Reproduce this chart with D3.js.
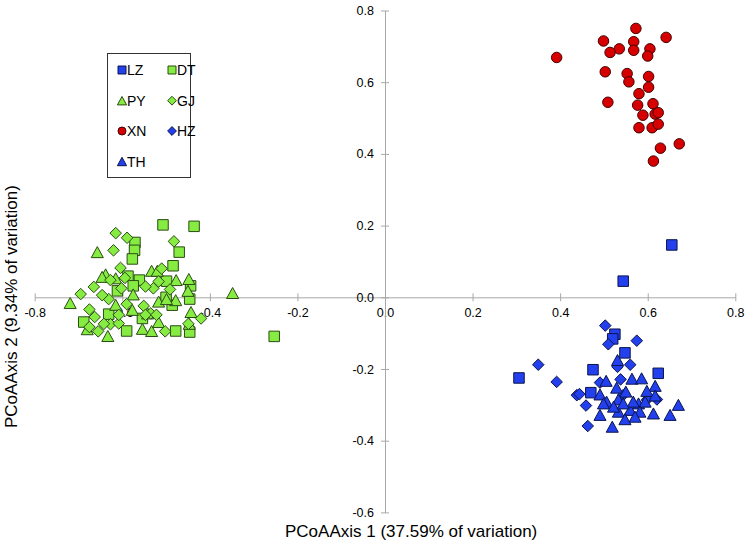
<!DOCTYPE html>
<html>
<head>
<meta charset="utf-8">
<script src="https://cdn.jsdelivr.net/npm/d3@7/dist/d3.min.js"></script>
<style>
  html, body { margin: 0; padding: 0; background: #fff; }
  svg { display: block; font-family: "Liberation Sans", Arial, sans-serif; }
</style>
</head>
<body>
<svg id="chart" width="745" height="548"></svg>
<script>
// ---------- data ----------
const xTicks = [-0.8, -0.6, -0.4, -0.2, 0.0, 0.2, 0.4, 0.6, 0.8];
const xTickLabels = ["-0.8", "-0.6", "-0.4", "-0.2", "0.0", "0.2", "0.4", "0.6", "0.8"];
const yTicks = [-0.6, -0.4, -0.2, 0.0, 0.2, 0.4, 0.6, 0.8];
const yTickLabels = ["-0.6", "-0.4", "-0.2", "0.0", "0.2", "0.4", "0.6", "0.8"];

const xTitle = "PCoAAxis 1 (37.59% of variation)";
const yTitle = "PCoAAxis 2 (9.34% of variation)";

const seriesNames = ["LZ", "DT", "PY", "GJ", "XN", "HZ", "TH"];
const seriesShapes = ["square", "square", "triangle", "diamond", "circle", "diamond", "triangle"];
const seriesColors = ["#2340ee", "#86ec42", "#86ec42", "#86ec42", "#d60000", "#2340ee", "#2340ee"];

const LZ = [[0.655,0.146],[0.544,0.045],[0.306,-0.225],[0.475,-0.202],[0.525,-0.103],[0.520,-0.116],
  [0.548,-0.155],[0.624,-0.212],[0.470,-0.266]];

const DT = [[-0.507,0.202],[-0.436,0.198],[-0.571,0.153],[-0.572,0.131],[-0.577,0.107],[-0.470,0.126],
  [-0.484,0.088],[-0.587,0.059],[-0.561,0.048],[-0.575,0.032],[-0.499,0.045],[-0.444,0.032],
  [-0.611,0.018],[-0.446,-0.005],[-0.486,-0.022],[-0.500,0.000],[-0.631,-0.047],[-0.688,-0.069],
  [-0.554,-0.059],[-0.590,-0.094],[-0.478,-0.094],[-0.446,-0.097],[-0.253,-0.109]];

const PY = [[-0.657,0.126],[-0.638,0.064],[-0.719,-0.016],[-0.348,0.012],[-0.533,0.074],[-0.520,0.074],
  [-0.448,0.051],[-0.450,0.018],[-0.477,0.048],[-0.478,-0.008],[-0.443,-0.041],[-0.447,-0.074],
  [-0.633,-0.108],[-0.554,-0.088],[-0.533,-0.094],[-0.517,-0.069],[-0.575,0.008],[-0.615,0.053],
  [-0.680,-0.089],[-0.517,-0.012],[-0.542,-0.045],[-0.577,-0.035],[-0.615,-0.021],[-0.499,-0.005],
  [-0.646,0.057]];

const GJ = [[-0.615,0.179],[-0.589,0.166],[-0.620,0.131],[-0.482,0.156],[-0.604,0.082],[-0.510,0.080],
  [-0.665,0.029],[-0.695,0.009],[-0.529,0.025],[-0.491,0.022],[-0.517,0.044],[-0.675,-0.034],
  [-0.663,-0.055],[-0.675,-0.083],[-0.655,-0.095],[-0.627,-0.075],[-0.608,-0.073],[-0.590,-0.019],
  [-0.631,-0.005],[-0.551,-0.024],[-0.535,-0.045],[-0.502,-0.095],[-0.449,-0.074],[-0.420,-0.059],
  [-0.594,0.054],[-0.627,0.048],[-0.646,0.006],[-0.602,0.025],[-0.547,-0.049],[-0.608,-0.049],
  [-0.547,0.030],[-0.642,-0.074],[-0.522,-0.049]];

const XN = [[0.573,0.750],[0.499,0.715],[0.642,0.725],[0.568,0.713],[0.535,0.693],[0.514,0.683],
  [0.568,0.689],[0.605,0.693],[0.600,0.673],[0.392,0.669],[0.503,0.629],[0.553,0.624],
  [0.557,0.601],[0.602,0.616],[0.602,0.586],[0.580,0.568],[0.509,0.544],[0.577,0.536],
  [0.612,0.540],[0.589,0.508],[0.617,0.511],[0.624,0.515],[0.580,0.473],[0.610,0.473],
  [0.624,0.483],[0.672,0.428],[0.629,0.416],[0.613,0.380]];

const HZ = [[0.503,-0.079],[0.575,-0.121],[0.510,-0.131],[0.560,-0.188],[0.531,-0.194],[0.350,-0.188],
  [0.392,-0.236],[0.538,-0.229],[0.491,-0.238],[0.438,-0.273],[0.444,-0.270],[0.459,-0.302],
  [0.463,-0.359],[0.621,-0.285],[0.544,-0.273],[0.598,-0.286]];

const TH = [[0.531,-0.175],[0.505,-0.233],[0.564,-0.227],[0.586,-0.226],[0.617,-0.247],[0.491,-0.271],
  [0.529,-0.252],[0.550,-0.263],[0.598,-0.261],[0.617,-0.274],[0.506,-0.291],[0.533,-0.285],
  [0.579,-0.296],[0.594,-0.291],[0.670,-0.300],[0.491,-0.328],[0.533,-0.319],[0.560,-0.314],
  [0.582,-0.319],[0.613,-0.324],[0.651,-0.328],[0.548,-0.340],[0.571,-0.333],[0.519,-0.361],
  [0.499,-0.296],[0.522,-0.305],[0.567,-0.291],[0.544,-0.296]];

const seriesData = [LZ, DT, PY, GJ, XN, HZ, TH];

// ---------- layout ----------
const svg = d3.select("#chart");
svg.append("rect").attr("width", 745).attr("height", 548).attr("fill", "#fff");

const x = d3.scaleLinear().domain([-0.8, 0.8]).range([34.7, 735.3]);
const y = d3.scaleLinear().domain([-0.6, 0.8]).range([512.4, 10.5]);

const axisColor = "#a8a8a8";

// X axis at y = 0
const gx = svg.append("g")
  .attr("transform", `translate(0,${y(0)})`)
  .call(d3.axisBottom(x).tickValues(xTicks).tickSizeOuter(0).tickSizeInner(4)
    .tickFormat((d, i) => xTickLabels[i]));
gx.select(".domain").attr("stroke", axisColor);
gx.selectAll(".tick line").attr("stroke", axisColor).attr("y1", -4).attr("y2", 4);
gx.selectAll(".tick text").attr("y", 10.5).attr("fill", "#000")
  .style("font-size", "12.5px").style("font-family", "'Liberation Sans', Arial, sans-serif");

// Y axis at x = 0
const gy = svg.append("g")
  .attr("transform", `translate(${x(0)},0)`)
  .call(d3.axisLeft(y).tickValues(yTicks).tickSizeOuter(0).tickSizeInner(4)
    .tickFormat((d, i) => yTickLabels[i]));
gy.select(".domain").attr("stroke", axisColor);
gy.selectAll(".tick line").attr("stroke", axisColor).attr("x1", -4).attr("x2", 4);
gy.selectAll(".tick text").attr("x", -11).attr("fill", "#000")
  .style("font-size", "12.5px").style("font-family", "'Liberation Sans', Arial, sans-serif");

// Axis titles
svg.append("text")
  .attr("x", 285).attr("y", 537)
  .attr("text-anchor", "start").style("font-size", "17px").attr("fill", "#000")
  .text(xTitle);
svg.append("text")
  .attr("transform", `translate(16.5,428) rotate(-90)`)
  .attr("text-anchor", "start").style("font-size", "17px").attr("fill", "#000")
  .text(yTitle);

// ---------- markers ----------
function shapePath(shape, s) {
  const h = s / 2;
  if (shape === "square") return `M${-h},${-h}H${h}V${h}H${-h}Z`;
  if (shape === "diamond") { const d = h * 1.1; return `M0,${-d}L${d},0L0,${d}L${-d},0Z`; }
  if (shape === "triangle") { const w = h * 1.15, t = h * 1.05; return `M0,${-t}L${w},${t}L${-w},${t}Z`; }
  if (shape === "circle") return `M${h},0A${h},${h} 0 1,1 ${-h},0A${h},${h} 0 1,1 ${h},0Z`;
}
function strokeFor(c) { return d3.color(c).darker(3.2).formatHex(); }

const plot = svg.append("g");
seriesData.forEach((data, si) => {
  const shape = seriesShapes[si];
  const col = seriesColors[si];
  plot.append("g").selectAll("path").data(data).join("path")
    .attr("transform", d => `translate(${x(d[0])},${y(d[1])})`)
    .attr("d", shapePath(shape, 10.5))
    .attr("fill", col)
    .attr("stroke", strokeFor(col))
    .attr("stroke-width", 1);
});

// ---------- legend ----------
const legend = svg.append("g");
legend.append("rect").attr("x", 107.5).attr("y", 53.5).attr("width", 83).attr("height", 124)
  .attr("fill", "#fff").attr("stroke", "#333").attr("stroke-width", 1);
const legendCol = [122, 172];
const legendRowY = [70, 100.7, 131, 161.5];
seriesNames.forEach((name, i) => {
  const cx = legendCol[i % 2], cy = legendRowY[Math.floor(i / 2)];
  const col = seriesColors[i];
  legend.append("path")
    .attr("transform", `translate(${cx},${cy})`)
    .attr("d", shapePath(seriesShapes[i], 8))
    .attr("fill", col).attr("stroke", strokeFor(col)).attr("stroke-width", 1);
  legend.append("text").attr("x", cx + 5).attr("y", cy).attr("dy", "0.36em")
    .style("font-size", "14px").attr("fill", "#000").text(name);
});
</script>
</body>
</html>
